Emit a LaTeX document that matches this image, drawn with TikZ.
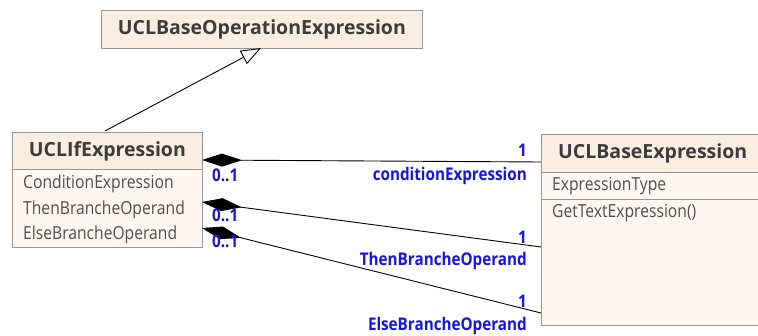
\documentclass[tikz,border=0pt]{standalone}
\usepackage{fontspec}
\setmainfont{Open Sans}
\newfontfamily\narrowfont[FakeStretch=0.87]{Open Sans}
\usetikzlibrary{arrows.meta}
\definecolor{hdrfill}{RGB}{250,238,224}
\definecolor{bodyfill}{RGB}{253,246,241}
\definecolor{boxline}{RGB}{150,150,150}
\definecolor{titletext}{RGB}{60,60,60}
\definecolor{membertext}{RGB}{80,80,80}
\definecolor{rolecol}{RGB}{20,20,235}
\tikzset{
  classhead/.style={draw=boxline, line width=0.8pt, fill=hdrfill, anchor=north west,
    inner sep=0pt, font=\fontsize{19.5}{22}\selectfont\bfseries, text=titletext},
  classbody/.style={draw=boxline, line width=0.8pt, fill=bodyfill, anchor=north west,
    inner sep=0pt},
  member/.style={anchor=west, inner sep=0pt, font=\narrowfont\fontsize{18}{20}\selectfont, text=membertext},
  role/.style={inner sep=0pt, font=\narrowfont\fontsize{17.5}{20}\selectfont\bfseries, text=rolecol},
  composition/.style={line width=0.9pt, {Diamond[length=40pt,width=13pt]}-},
  generalization/.style={line width=0.9pt, -{Triangle[open,length=20pt,width=15pt,line width=0.9pt]}},
}
\begin{document}
\begin{tikzpicture}[x=1pt,y=-1pt]
\useasboundingbox (0,0) rectangle (758,336);
\fill[white] (0,0) rectangle (758,336);

% UCLBaseOperationExpression
\node[classhead, minimum width=321pt, minimum height=38pt] (opx) at (101,10) {UCLBaseOperationExpression};

% UCLIfExpression
\node[classbody, minimum width=190pt, minimum height=78pt] (ifbody) at (12,169) {};
\node[classhead, minimum width=190pt, minimum height=37pt] (ifx) at (12,132) {UCLIfExpression};
\node[member] (ifa1) at (23,184) {ConditionExpression};
\node[member] (ifa2) at (23,210) {ThenBrancheOperand};
\node[member] (ifa3) at (23,235) {ElseBrancheOperand};

% UCLBaseExpression (runs past the right edge)
\node[classbody, minimum width=240pt, minimum height=126pt] (bops) at (541,199) {};
\node[classbody, minimum width=240pt, minimum height=27pt] (battr) at (541,172) {};
\node[classhead, minimum width=240pt, minimum height=38pt] (bx) at (541,134) {};
\node[anchor=west, inner sep=0pt, font=\fontsize{19.5}{22}\selectfont\bfseries, text=titletext] (bxt) at (558,153) {UCLBaseExpression};
\node[member] (ba1) at (552,186) {ExpressionType};
\node[member] (bo1) at (552,213) {GetTextExpression()};

% connection points
\coordinate (gsrc) at (105,131);
\coordinate (gdst) at (261,48);
\coordinate (c1a) at (202,160);
\coordinate (c1b) at (541,162);
\coordinate (c2a) at (202,202);
\coordinate (c2b) at (541,247);
\coordinate (c3a) at (202,228);
\coordinate (c3b) at (541,313);

% generalization
\draw[generalization] (gsrc) -- (gdst);

% compositions
\draw[composition] (c1a) -- (c1b);
\draw[composition] (c2a) -- (c2b);
\draw[composition] (c3a) -- (c3b);

% multiplicities and role names
\node[role, anchor=west] (m1a) at (212,175) {0..1};
\node[role, anchor=west] (m2a) at (212,215) {0..1};
\node[role, anchor=west] (m3a) at (212,241) {0..1};
\node[role, anchor=east] (m1b) at (527,150) {1};
\node[role, anchor=east] (m2b) at (527,237) {1};
\node[role, anchor=east] (m3b) at (527,301) {1};
\node[role, anchor=east] (r1) at (527,176) {conditionExpression};
\node[role, anchor=east] (r2) at (527,261) {ThenBrancheOperand};
\node[role, anchor=east] (r3) at (527,326) {ElseBrancheOperand};
\end{tikzpicture}
\end{document}
